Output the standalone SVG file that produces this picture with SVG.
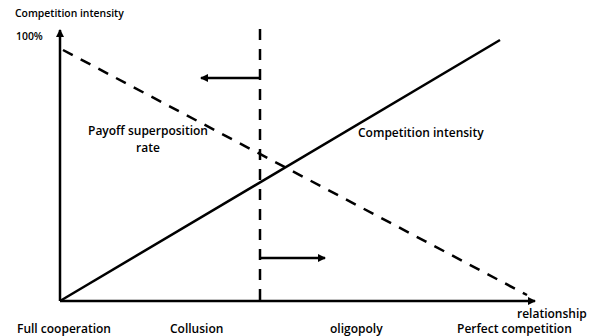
<svg xmlns="http://www.w3.org/2000/svg" width="595" height="336" viewBox="0 0 595 336">
<style>
text{font-family:"Open Sans","Liberation Sans",sans-serif;font-size:12px;font-weight:600;fill:#000}
text.sm{font-size:10.4px}
.ln{stroke:#000;stroke-width:2.5;fill:none}
.ds{stroke-dasharray:11 9}
</style>
<defs>
<marker id="ah" markerWidth="8" markerHeight="8" refX="7" refY="4" orient="auto" markerUnits="userSpaceOnUse" viewBox="0 0 8 8">
<path d="M0,0 L8,4 L0,8 z" fill="#000"/>
</marker>
</defs>
<rect width="595" height="336" fill="#fff"/>
<g id="connectors">
<line class="ln" x1="60" y1="301" x2="60" y2="30" marker-end="url(#ah)"/>
<line class="ln" x1="60" y1="301" x2="535" y2="301" marker-end="url(#ah)"/>
<line class="ln" x1="60" y1="301" x2="500" y2="40"/>
<line class="ln ds" x1="63" y1="50" x2="527" y2="295"/>
<line class="ln ds" x1="260" y1="29" x2="260" y2="301"/>
<line class="ln" x1="260" y1="78" x2="201" y2="78" marker-end="url(#ah)"/>
<line class="ln" x1="260" y1="258" x2="325" y2="258" marker-end="url(#ah)"/>
</g>
<g id="labels">
<text class="sm" x="15" y="17">Competition intensity</text>
<text class="sm" x="16" y="40">100%</text>
<text x="148" y="135" text-anchor="middle">Payoff superposition</text>
<text x="148" y="152" text-anchor="middle">rate</text>
<text x="358" y="137">Competition intensity</text>
<text x="517" y="318">relationship</text>
<text x="17" y="333">Full cooperation</text>
<text x="170" y="333">Collusion</text>
<text x="330" y="333">oligopoly</text>
<text x="457" y="333">Perfect competition</text>
</g>
</svg>
